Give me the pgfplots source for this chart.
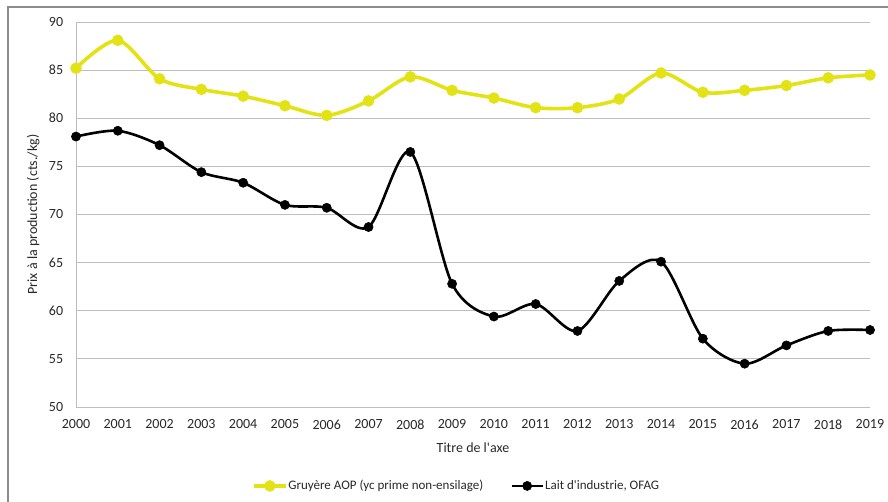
\documentclass[border=0pt]{standalone}
\usepackage{fontspec}
\setmainfont{Carlito}[Ligatures=TeXOff]
\usepackage{pgfplots}
\pgfplotsset{compat=1.18}
\definecolor{gyel}{RGB}{226,226,20}
\definecolor{gridg}{RGB}{190,190,190}
\definecolor{txtg}{RGB}{40,40,40}
\begin{document}
\fontsize{14}{17}\selectfont
\begin{tikzpicture}
\useasboundingbox (0,0) rectangle (888pt,501pt);
\draw[gray!90,line width=1.2pt] (8pt,-20pt) -- (8pt,494pt) -- (900pt,494pt);
\begin{axis}[
  at={(76pt,94pt)}, anchor=south west,
  scale only axis, width=794pt, height=385pt,
  xmin=2000, xmax=2019, ymin=50, ymax=90,
  xtick={2000,...,2019}, ytick={50,55,...,90},
  /pgf/number format/1000 sep={},
  /pgf/number format/assume math mode=true,
  tick label style={font=\fontsize{14}{17}\selectfont, text=txtg},
  ymajorgrids, grid style={gridg, line width=0.8pt},
  axis x line*=bottom, axis y line*=left,
  x axis line style={gridg, line width=1pt, -},
  y axis line style={gridg, line width=1pt, -},
  major tick length=0pt,
  xticklabel style={yshift=-8pt},
  yticklabel style={xshift=-8pt},
  xlabel={Titre de l'axe}, ylabel={Prix à la production (cts./kg)},
  xlabel style={font=\fontsize{14}{17}\selectfont, text=txtg, yshift=-4pt},
  ylabel style={font=\fontsize{14}{17}\selectfont, text=txtg, yshift=0pt},
  legend columns=2,
  legend style={at={(0.479,-0.205)}, anchor=center, draw=none, font=\fontsize{13}{16}\selectfont,
    text=txtg, /tikz/every even column/.append style={column sep=26pt}, inner sep=0pt,
    nodes={inner sep=1pt}},
  legend image code/.code={\draw[mark repeat=2,mark phase=2] plot coordinates {(0cm,0cm) (0.55cm,0cm) (1.1cm,0cm)};},
  clip=false,
]
\addplot[gyel, line width=3.6pt, smooth, tension=0.5, mark=*, mark size=5.5pt, mark options={solid, fill=gyel, draw=gyel, line width=0.5pt}] coordinates {
(2000,85.2) (2001,88.1) (2002,84.1) (2003,83.0) (2004,82.3) (2005,81.3) (2006,80.3) (2007,81.8) (2008,84.3) (2009,82.9)
(2010,82.1) (2011,81.1) (2012,81.1) (2013,82.0) (2014,84.7) (2015,82.7) (2016,82.9) (2017,83.4) (2018,84.2) (2019,84.5)};
\addlegendentry{Gruyère AOP (yc prime non-ensilage)}
\addplot[black, line width=2.6pt, smooth, tension=0.5, mark=*, mark size=4.6pt, mark options={solid, fill=black, draw=black, line width=0.5pt}] coordinates {
(2000,78.1) (2001,78.7) (2002,77.2) (2003,74.4) (2004,73.3) (2005,71.0) (2006,70.7) (2007,68.7) (2008,76.5) (2009,62.8)
(2010,59.4) (2011,60.7) (2012,57.9) (2013,63.1) (2014,65.1) (2015,57.1) (2016,54.5) (2017,56.4) (2018,57.9) (2019,58.0)};
\addlegendentry{Lait d'industrie, OFAG}
\end{axis}
\end{tikzpicture}
\end{document}
